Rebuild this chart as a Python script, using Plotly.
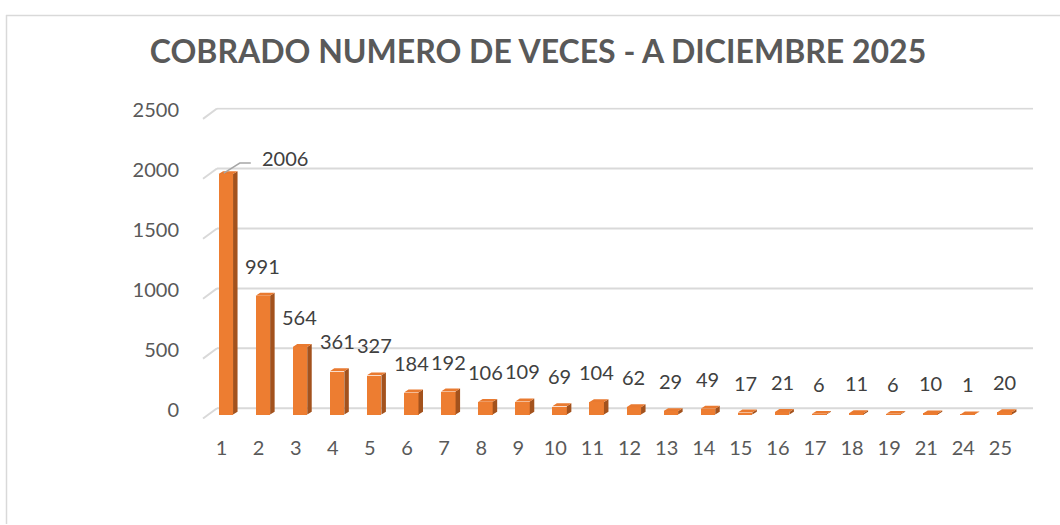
import plotly.graph_objects as go

# ---- data ----
categories = ["1", "2", "3", "4", "5", "6", "7", "8", "9", "10", "11", "12",
              "13", "14", "15", "16", "17", "18", "19", "21", "24", "25"]
values = [2006, 991, 564, 361, 327, 184, 192, 106, 109, 69, 104, 62,
          29, 49, 17, 21, 6, 11, 6, 10, 1, 20]
y_ticks = [0, 500, 1000, 1500, 2000, 2500]
title_text = "COBRADO NUMERO DE VECES - A DICIEMBRE 2025"

# ---- geometry / style ----
W, H = 1060, 525
def fx(p): return p / W
def fy(p): return 1 - p / H

x_front_left, x_front_right = 203, 1019
zero_px = 413
K = 306.7 / 2500.0          # px per unit
y_lo, y_hi = -40, 2560
n = len(categories)
px_per_cat = (x_front_right - x_front_left) / n

bar_off = -3 / px_per_cat
bar_w = 14.5 / px_per_cat
ddx = 4.5 / px_per_cat
ddy = 3 / K

FRONT = "#ED7D31"
SIDE = "#A3521D"
TOP = "#E97A30"
GRID = "#D9D9D9"
FONT = "Lato"

xpos = list(range(n))

fig = go.Figure()
fig.add_trace(go.Bar(x=xpos, y=values, offset=bar_off, width=bar_w,
                     marker=dict(color=FRONT, line=dict(width=0)),
                     hoverinfo="skip", showlegend=False))

# side and top faces built from the data values
sx, sy, tx, ty = [], [], [], []
for i, v in zip(xpos, values):
    xl = i + bar_off
    xr = xl + bar_w
    sx += [xr, xr + ddx, xr + ddx, xr, xr, None]
    sy += [0, ddy, v + ddy, v, 0, None]
    tx += [xl, xl + ddx, xr + ddx, xr, xl, None]
    ty += [v, v + ddy, v + ddy, v, v, None]
fig.add_trace(go.Scatter(x=sx, y=sy, mode="none", fill="toself", fillcolor=SIDE,
                         hoverinfo="skip", showlegend=False))
fig.add_trace(go.Scatter(x=tx, y=ty, mode="none", fill="toself", fillcolor=TOP,
                         hoverinfo="skip", showlegend=False))

shapes = []
# back-wall gridlines and the diagonal side stubs
for t in y_ticks:
    shapes.append(dict(type="line", layer="below", xref="paper", x0=fx(217), x1=fx(1033),
                       yref="y", ysizemode="pixel", yanchor=t, y0=6.3, y1=6.3,
                       line=dict(color=GRID, width=2)))
    shapes.append(dict(type="line", layer="below", xref="paper", xsizemode="pixel",
                       xanchor=fx(203), x0=0, x1=14,
                       yref="y", ysizemode="pixel", yanchor=t, y0=-4, y1=6.3,
                       line=dict(color=GRID, width=2)))
# chart frame
shapes.append(dict(type="line", xref="paper", yref="paper", x0=fx(6.5), x1=fx(6.5),
                   y0=fy(4), y1=0, line=dict(color=GRID, width=1.5)))
shapes.append(dict(type="line", xref="paper", yref="paper", x0=fx(6), x1=1,
                   y0=fy(4.5), y1=fy(4.5), line=dict(color=GRID, width=1.5)))

annotations = []
center_off = bar_off + bar_w / 2
for i, (v, lab) in enumerate(zip(values, values)):
    if i == 0:
        # callout label with leader line
        shapes.append(dict(type="path", xref="x", yref="y", xsizemode="pixel",
                           ysizemode="pixel", xanchor=i + center_off, yanchor=v,
                           path="M-2,1 L14,11 L25,11",
                           line=dict(color="#A6A6A6", width=1.5)))
        annotations.append(dict(x=i + center_off, y=v, xref="x", yref="y",
                                text=str(lab), showarrow=False, xanchor="left",
                                yanchor="middle", xshift=34, yshift=16,
                                font=dict(family=FONT, size=20, color="#404040")))
    else:
        annotations.append(dict(x=i + center_off, y=v, xref="x", yref="y",
                                text=str(lab), showarrow=False, xanchor="center",
                                yanchor="bottom", yshift=16,
                                font=dict(family=FONT, size=20, color="#404040")))

fig.update_layout(
    width=W, height=H,
    margin=dict(l=0, r=0, t=0, b=0),
    paper_bgcolor="white", plot_bgcolor="rgba(0,0,0,0)",
    title=dict(text="<b>" + title_text + "</b>", x=fx(538), xanchor="center",
               y=fy(51.5), yanchor="middle",
               font=dict(family=FONT, size=32, color="#595959")),
    xaxis=dict(domain=[fx(x_front_left), fx(x_front_right)], range=[-0.5, n - 0.5],
               tickvals=xpos, ticktext=categories, showgrid=False, zeroline=False,
               showline=False, ticks="", ticklabelstandoff=15,
               tickfont=dict(family=FONT, size=20, color="#595959"), fixedrange=True),
    yaxis=dict(domain=[fy(zero_px - y_lo * K), fy(zero_px - y_hi * K)],
               range=[y_lo, y_hi], tickvals=y_ticks, showgrid=False, zeroline=False,
               showline=False, ticks="", ticklabelshift=-5, ticklabelstandoff=23,
               tickfont=dict(family=FONT, size=20, color="#595959"), fixedrange=True),
    shapes=shapes, annotations=annotations,
    bargap=0, showlegend=False,
)

fig.write_html("out.html", config={"displayModeBar": False},
               post_script="document.body.style.margin='0';document.body.style.overflow='hidden';")
